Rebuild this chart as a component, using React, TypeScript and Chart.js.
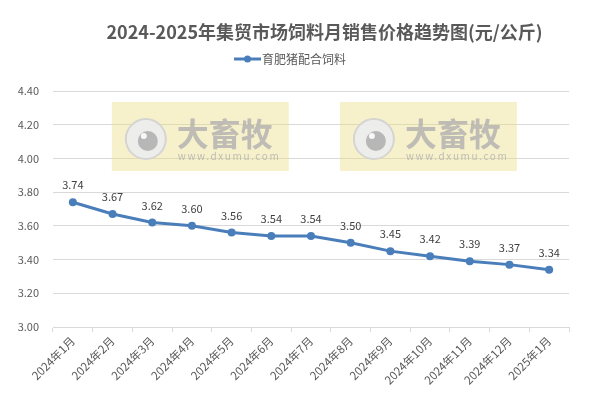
import React, { useEffect, useRef } from "react";
import { Chart, registerables } from "chart.js";

Chart.register(...registerables);

const categories = [
  "2024年1月", "2024年2月", "2024年3月", "2024年4月", "2024年5月", "2024年6月",
  "2024年7月", "2024年8月", "2024年9月", "2024年10月", "2024年11月", "2024年12月", "2025年1月",
];
const feedPrices = [3.74, 3.67, 3.62, 3.6, 3.56, 3.54, 3.54, 3.5, 3.45, 3.42, 3.39, 3.37, 3.34];
const seriesName = "育肥猪配合饲料";
const titleText = "2024-2025年集贸市场饲料月销售价格趋势图(元/公斤)";
const yMin = 3.0;
const yMax = 4.4;
const yStep = 0.2;

const FONT = "'Noto Sans CJK SC', 'Noto Sans', sans-serif";
const LINE_COLOR = "#4A7EBB";
const TEXT_COLOR = "#595959";
const GRID_COLOR = "#d9d9d9";

const headerPlugin = {
  id: "header",
  afterDraw(chart: any) {
    const ctx = chart.ctx;
    ctx.save();
    ctx.fillStyle = TEXT_COLOR;
    ctx.font = `bold 18px ${FONT}`;
    ctx.textAlign = "center";
    ctx.textBaseline = "middle";
    ctx.fillText(titleText, 316.5, 24);
    ctx.strokeStyle = LINE_COLOR;
    ctx.lineWidth = 3;
    ctx.beginPath();
    ctx.moveTo(226, 51);
    ctx.lineTo(253, 51);
    ctx.stroke();
    ctx.fillStyle = LINE_COLOR;
    ctx.beginPath();
    ctx.arc(239.5, 51, 3.5, 0, Math.PI * 2);
    ctx.fill();
    ctx.fillStyle = TEXT_COLOR;
    ctx.font = `12px ${FONT}`;
    ctx.textAlign = "left";
    ctx.fillText(seriesName, 254, 51);
    ctx.restore();
  },
};

function drawWatermark(ctx: any, x: number, y: number) {
  const w = 177;
  const h = 69;
  ctx.save();
  ctx.fillStyle = "rgba(236, 222, 130, 0.42)";
  ctx.fillRect(x, y, w, h);
  const cx = x + 34;
  const cy = y + 37;
  ctx.fillStyle = "rgba(236,236,236,0.95)";
  ctx.beginPath();
  ctx.arc(cx, cy, 20, 0, Math.PI * 2);
  ctx.fill();
  ctx.strokeStyle = "rgba(210,210,210,0.9)";
  ctx.lineWidth = 2;
  ctx.stroke();
  ctx.fillStyle = "rgba(180,180,180,0.95)";
  ctx.beginPath();
  ctx.arc(cx + 2, cy + 2, 10, 0, Math.PI * 2);
  ctx.fill();
  ctx.fillStyle = "rgba(255,255,255,0.9)";
  ctx.beginPath();
  ctx.arc(cx - 2, cy - 3, 3, 0, Math.PI * 2);
  ctx.fill();
  ctx.fillStyle = "rgba(175,175,175,0.8)";
  ctx.font = `bold 32px ${FONT}`;
  ctx.textAlign = "left";
  ctx.textBaseline = "middle";
  ctx.fillText("大畜牧", x + 65, y + 32);
  ctx.font = `10px ${FONT}`;
  (ctx as any).letterSpacing = "1.6px";
  ctx.fillText("www.dxumu.com", x + 66, y + 54);
  (ctx as any).letterSpacing = "0px";
  ctx.restore();
}

const watermarkPlugin = {
  id: "watermark",
  beforeDatasetsDraw(chart: any) {
    const a = chart.chartArea;
    const w = a.right - a.left;
    drawWatermark(chart.ctx, a.left + w * 0.114, a.top + 11);
    drawWatermark(chart.ctx, a.left + w * 0.556, a.top + 11);
  },
};

const dataLabelPlugin = {
  id: "dataLabels",
  afterDatasetsDraw(chart: any) {
    const ctx = chart.ctx;
    const meta = chart.getDatasetMeta(0);
    const data = chart.data.datasets[0].data as number[];
    ctx.save();
    ctx.fillStyle = "#404040";
    ctx.font = `11px ${FONT}`;
    ctx.textAlign = "center";
    ctx.textBaseline = "middle";
    meta.data.forEach((pt: any, i: number) => {
      ctx.fillText(data[i].toFixed(2), pt.x, pt.y - 17);
    });
    ctx.restore();
  },
};

export default function App() {
  const ref = useRef<HTMLCanvasElement | null>(null);
  useEffect(() => {
    if (!ref.current) return;
    const chart = new Chart(ref.current, {
      type: "line",
      data: {
        labels: categories,
        datasets: [
          {
            label: seriesName,
            data: feedPrices,
            borderColor: LINE_COLOR,
            backgroundColor: LINE_COLOR,
            borderWidth: 3,
            pointRadius: 4,
            pointBackgroundColor: LINE_COLOR,
            pointBorderColor: LINE_COLOR,
            pointBorderWidth: 0,
            tension: 0,
          },
        ],
      },
      options: {
        animation: false,
        responsive: true,
        maintainAspectRatio: false,
        layout: { padding: { top: 83, right: 20, left: 0, bottom: 0 } },
        plugins: {
          legend: { display: false },
          title: { display: false },
          tooltip: { enabled: false },
        },
        scales: {
          x: {
            offset: true,
            grid: {
              display: true,
              offset: true,
              drawOnChartArea: false,
              drawTicks: true,
              tickLength: 5,
              color: GRID_COLOR,
            },
            border: { display: true, color: GRID_COLOR, width: 1 },
            ticks: {
              color: TEXT_COLOR,
              font: { family: FONT, size: 11.5 },
              maxRotation: 45,
              minRotation: 45,
              autoSkip: false,
              padding: 2,
            },
            afterFit(scale: any) {
              scale.height = 66;
            },
          },
          y: {
            min: yMin,
            max: yMax,
            grid: { color: GRID_COLOR, drawTicks: false },
            border: { display: false },
            ticks: {
              stepSize: yStep,
              color: TEXT_COLOR,
              font: { family: FONT, size: 11 },
              padding: 14,
              callback: (v: any) => Number(v).toFixed(2),
            },
            afterFit(scale: any) {
              scale.width = 45;
            },
          },
        },
      },
      plugins: [watermarkPlugin, dataLabelPlugin, headerPlugin],
    });
    return () => chart.destroy();
  }, []);
  return (
    <div style={{ width: "581px", height: "385px", position: "relative" }}>
      <canvas ref={ref} />
    </div>
  );
}
